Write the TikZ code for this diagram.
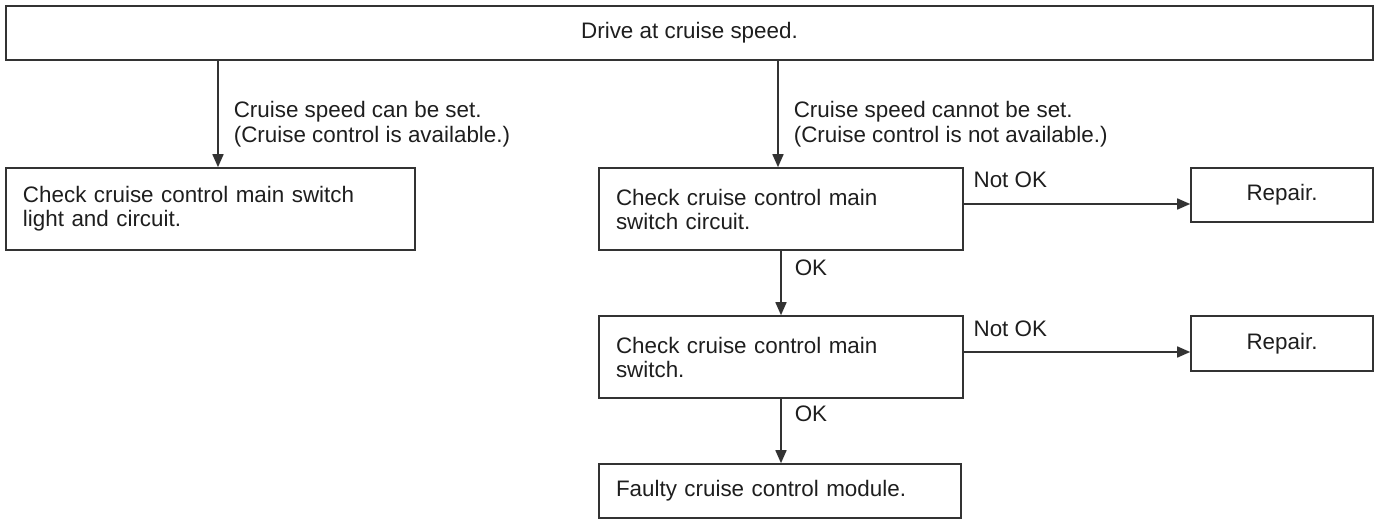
\documentclass[tikz,border=0pt]{standalone}
\usepackage{fontspec}
\setmainfont{Liberation Sans}
\usetikzlibrary{arrows.meta}
\definecolor{ln}{HTML}{333333}
\definecolor{tx}{HTML}{1E1E1E}
\tikzset{
  box/.style={draw=ln, line width=0.8pt, rectangle, inner ysep=0pt, text=tx,
    font=\fontsize{11.2pt}{12pt}\selectfont},
  lbox/.style={box, inner xsep=8.5pt, align=left, text width=#1-17pt, minimum width=#1},
  cbox/.style={box, inner xsep=0pt, align=center, minimum width=#1},
  arr/.style={draw=ln, line width=0.8pt, -{Triangle[length=6.5pt,width=5.5pt]}},
  lbl/.style={text=tx, inner sep=0pt, align=left, font=\fontsize{11.2pt}{12.2pt}\selectfont}
}
\begin{document}
\begin{tikzpicture}[x=0.5pt,y=-0.5pt]
\useasboundingbox (0,0) rectangle (1378,519);
\node[cbox=683.5pt, minimum height=27pt] (top) at (689.5,33) {Drive at cruise speed.};
\node[lbox=204.5pt, minimum height=41pt] (lb) at (210.5,209) {Check cruise control main switch\\light and circuit.};
\node[lbox=182pt, minimum height=41pt] (c1) at (781,209) {Check cruise control main\\switch circuit.};
\node[lbox=182pt, minimum height=41pt] (c2) at (781,357) {Check cruise control main\\switch.};
\node[lbox=181pt, minimum height=27pt] (fm) at (780,491) {Faulty cruise control module.};
\node[cbox=91pt, minimum height=27pt] (r1) at (1282,195) {Repair.};
\node[cbox=91pt, minimum height=27.5pt] (r2) at (1282,343.5) {Repair.};

\draw[arr] ([xshift=3.75pt]lb.north |- top.south) -- ([xshift=3.75pt]lb.north)
  node[lbl, pos=0.766, anchor=base west, xshift=7.5pt] {Cruise speed can be set.\\(Cruise control is available.)};
\draw[arr] ([xshift=-1.5pt]c1.north |- top.south) -- ([xshift=-1.5pt]c1.north)
  node[lbl, pos=0.766, anchor=base west, xshift=7.5pt] {Cruise speed cannot be set.\\(Cruise control is not available.)};
\draw[arr] (c1.south) -- (c2.north)
  node[lbl, pos=0.38, anchor=base west, xshift=6.5pt] {OK};
\draw[arr] (c2.south) -- (fm.north -| c2.south)
  node[lbl, pos=0.36, anchor=base west, xshift=6.5pt] {OK};
\draw[arr] ([yshift=2.5pt]c1.east) -- ([yshift=2.5pt]c1.east -| r1.west)
  node[lbl, pos=0, anchor=base west, xshift=4.5pt, yshift=8pt] {Not OK};
\draw[arr] ([yshift=2.5pt]c2.east) -- ([yshift=2.5pt]c2.east -| r2.west)
  node[lbl, pos=0, anchor=base west, xshift=4.5pt, yshift=8pt] {Not OK};
\end{tikzpicture}
\end{document}
